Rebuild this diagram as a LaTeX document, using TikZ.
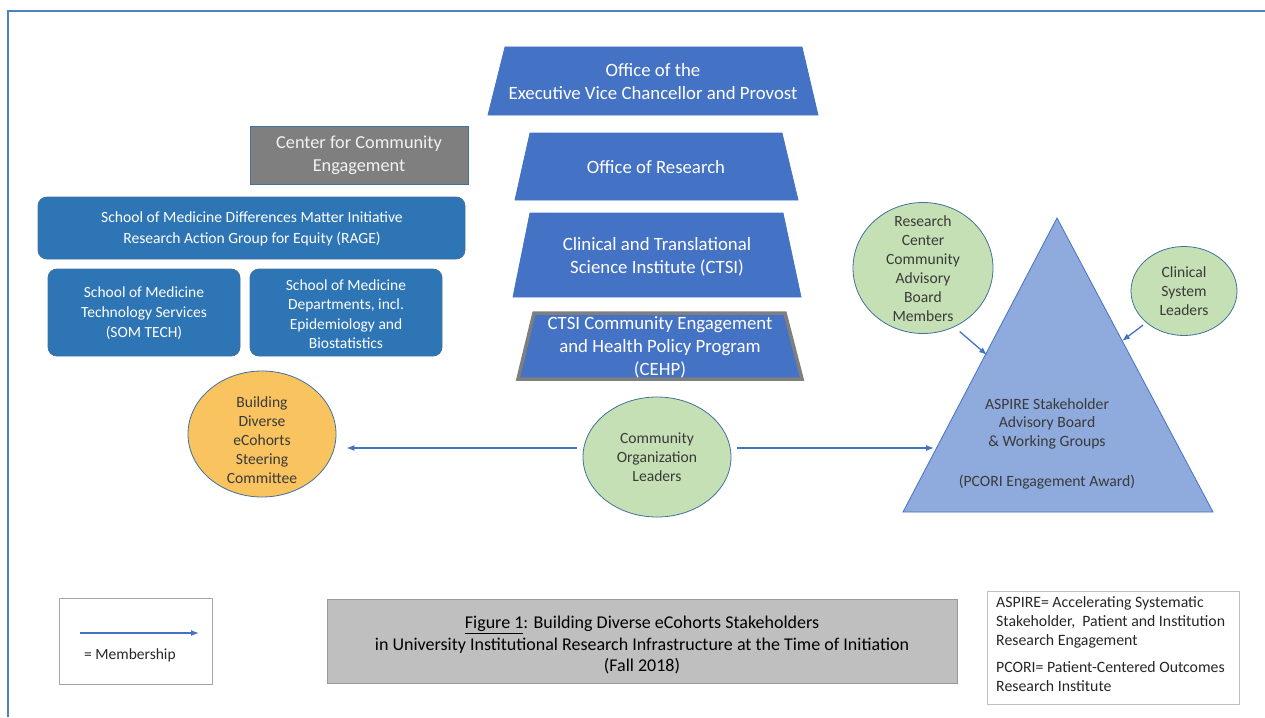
\documentclass[tikz,border=0pt]{standalone}
\usepackage{fontspec}
\setmainfont{Carlito}
\usetikzlibrary{arrows.meta,shapes.geometric}

\definecolor{frameblue}{HTML}{4F81BD}
\definecolor{trapblue}{HTML}{4472C4}
\definecolor{boxblue}{HTML}{2E75B6}
\definecolor{edgeblue}{HTML}{41719C}
\definecolor{ccegray}{HTML}{7F7F7F}
\definecolor{leafgreen}{HTML}{C5E0B4}
\definecolor{gold}{HTML}{F9C35F}
\definecolor{tripale}{HTML}{8FAADC}
\definecolor{capgray}{HTML}{BFBFBF}
\definecolor{darktext}{HTML}{3A3A3A}

\begin{document}
\begin{tikzpicture}[x=1pt,y=-1pt,
  trap/.style={fill=trapblue,draw=trapblue,line width=0.8pt},
  traptext/.style={text=white,align=center,font=\fontsize{18.8}{23}\selectfont},
  sombox/.style={fill=boxblue,draw=edgeblue,line width=0.8pt,rounded corners=9pt},
  somtext/.style={text=white,align=center},
  blob/.style={ellipse,draw=edgeblue,line width=0.8pt,inner sep=0pt},
  blobtext/.style={text=darktext,align=center,font=\fontsize{15.6}{19}\selectfont},
  member/.style={draw=trapblue,line width=1.3pt,-{Latex[length=8pt,width=6pt]}},
]
\useasboundingbox (0,0) rectangle (1265,717);

% outer frame (top and left rules)
\draw[frameblue,line width=2.5pt] (8,717) -- (8,11) -- (1265,11);

% ---- institutional stack ----
\path[trap] (505,47) -- (802,47) -- (818,115) -- (488,115) -- cycle;
\node[traptext] (provost) at (653,82) {Office of the\\Executive Vice Chancellor and Provost};

\path[trap] (530,133) -- (782,133) -- (798,200) -- (515,200) -- cycle;
\node[traptext] (research) at (656,167) {Office of Research};

\path[trap] (530,213) -- (783,213) -- (801,297) -- (513,297) -- cycle;
\node[traptext] (ctsi) at (657,257) {Clinical and Translational\\Science Institute (CTSI)};

\path[fill=trapblue,draw=ccegray,line width=3.5pt] (534,313) -- (785,313) -- (802,379) -- (518,379) -- cycle;
\node[traptext] (cehp) at (660,347) {CTSI Community Engagement\\and Health Policy Program\\(CEHP)};

% ---- left-hand units ----
\node[fill=ccegray,draw=edgeblue,line width=0.8pt,minimum width=218pt,minimum height=58pt,
      text=white!95!black,align=center,font=\fontsize{18.3}{23}\selectfont] (cce) at (359,155)
      {Center for Community\\Engagement};

\node[sombox,minimum width=427pt,minimum height=62pt] (rage) at (251.5,228) {};
\node[somtext,font=\fontsize{15.6}{21}\selectfont] (ragetext) at (252,229)
      {School of Medicine Differences Matter Initiative\\Research Action Group for Equity (RAGE)};

\node[sombox,minimum width=192pt,minimum height=87pt] (somtech) at (144,312.5) {};
\node[somtext,font=\fontsize{15.5}{20}\selectfont] (somtechtext) at (144,313)
      {School of Medicine\\Technology Services\\(SOM TECH)};

\node[sombox,minimum width=192pt,minimum height=87pt] (depts) at (346,312.5) {};
\node[somtext,font=\fontsize{15.5}{19.5}\selectfont] (deptstext) at (346,314)
      {School of Medicine\\Departments, incl.\\Epidemiology and\\Biostatistics};

% ---- steering committee and community leaders ----
\node[blob,fill=gold,minimum width=148pt,minimum height=126pt] (steer) at (262,434) {};
\node[blobtext] (steertext) at (262,440)
      {Building\\Diverse\\eCohorts\\Steering\\Committee};

\node[blob,fill=leafgreen,minimum width=148pt,minimum height=120pt] (comm) at (657,457) {};
\node[blobtext] (commtext) at (657,457) {Community\\Organization\\Leaders};

% ---- ASPIRE pyramid ----
\coordinate (apex) at (1057,218);
\coordinate (baseL) at (903,512);
\coordinate (baseR) at (1213,512);
\path[fill=tripale,draw=trapblue,line width=0.8pt] (apex) -- (baseR) -- (baseL) -- cycle;
\node[text=darktext,align=center,font=\fontsize{15.7}{18.5}\selectfont] (aspire) at (1047,444)
      {ASPIRE Stakeholder\\Advisory Board\\\& Working Groups\\[22pt](PCORI Engagement Award)};
\coordinate (aspireW) at (934,448);
\coordinate (aspireNW) at (987,355);
\coordinate (aspireNE) at (1122,341);

\node[blob,fill=leafgreen,minimum width=140pt,minimum height=131pt] (rcab) at (923,268) {};
\node[blobtext] (rcabtext) at (923,269)
      {Research\\Center\\Community\\Advisory\\Board\\Members};

\node[blob,fill=leafgreen,minimum width=106pt,minimum height=89pt] (csl) at (1184,291) {};
\node[blobtext] (csltext) at (1184,291) {Clinical\\System\\Leaders};

% ---- membership links ----
\draw[member,shorten <=6pt,shorten >=10pt] (comm.west |- aspireW) -- (steer.east |- aspireW);
\draw[member,shorten <=6pt] (comm.east |- aspireW) -- (aspireW);
\draw[member,shorten <=7pt] (rcab.-62) -- (aspireNW);
\draw[member,shorten <=4pt] (csl.-140) -- (aspireNE);

% ---- legend ----
\node[draw=black!35,line width=1pt,minimum width=153pt,minimum height=86pt] (legend) at (135.5,641) {};
\coordinate (legA) at (80,633);
\coordinate (legB) at (199,633);
\draw[member] (legA) -- (legB);
\node[anchor=west,text=black!85,font=\fontsize{15.5}{17}\selectfont,inner sep=0pt] (legtext) at (84,655) {= Membership};

% ---- caption ----
\node[fill=capgray,draw=black!40,line width=1pt,minimum width=630pt,minimum height=84pt] (capbox) at (642,641) {};
\node[align=center,text=black,font=\fontsize{18}{21.5}\selectfont] (captext) at (642,645)
      {\underline{Figure 1}: Building Diverse eCohorts Stakeholders\\
       in University Institutional Research Infrastructure at the Time of Initiation\\
       (Fall 2018)};

% ---- acronyms ----
\node[draw=black!25,line width=1pt,minimum width=252pt,minimum height=113pt] (acrobox) at (1113,647.5) {};
\node[anchor=north west,align=left,text=black!85,font=\fontsize{15.8}{19}\selectfont,inner sep=0pt] (acrotext) at (996,596)
      {ASPIRE= Accelerating Systematic\\
       Stakeholder,\ \ Patient and Institution\\
       Research Engagement\\[8pt]
       PCORI= Patient-Centered Outcomes\\
       Research Institute};
\end{tikzpicture}
\end{document}
